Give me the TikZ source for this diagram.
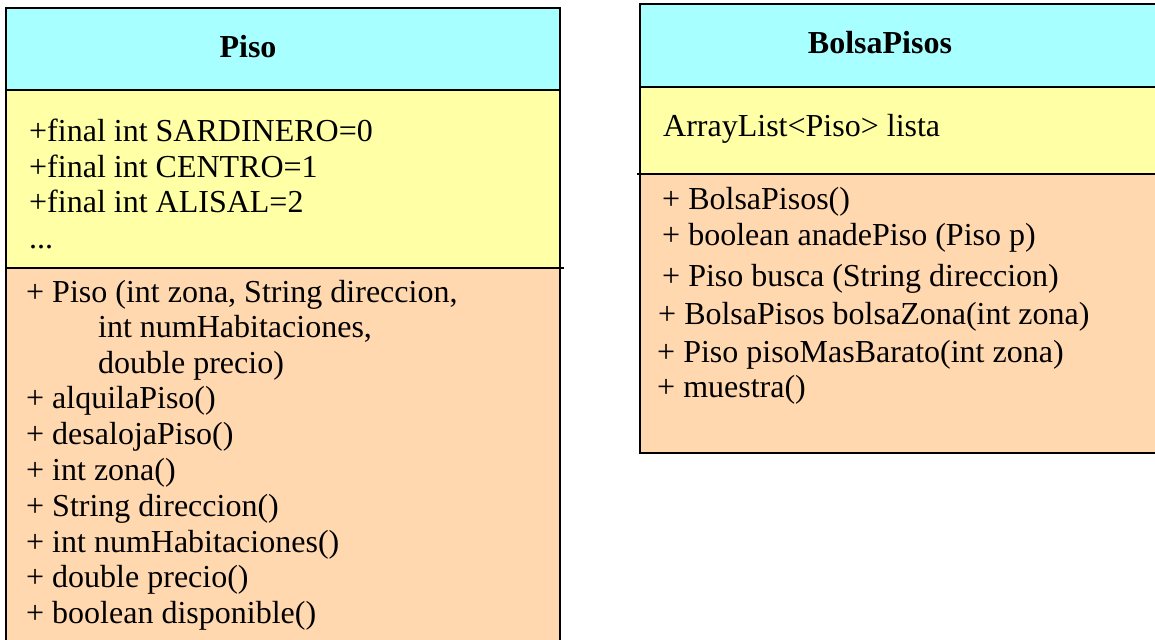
\documentclass[tikz,border=0pt]{standalone}
\usepackage{fontspec}
\setmainfont{Liberation Serif}
\definecolor{hdr}{RGB}{168,255,255}
\definecolor{attr}{RGB}{255,255,166}
\definecolor{meth}{RGB}{255,216,176}
\tikzset{
  border/.style={line width=2.3pt, draw=black},
  txt/.style={anchor=base west, inner sep=0pt, font=\fontsize{32}{36}\selectfont},
  ttl/.style={anchor=base, inner sep=0pt, font=\fontsize{32}{36}\selectfont\bfseries}
}
\begin{document}
\begin{tikzpicture}[x=1pt,y=-1pt]
\useasboundingbox (0,0) rectangle (1155,639);
\clip (0,0) rectangle (1155,639);
% ---- Piso class ----
\fill[hdr] (6,8) rectangle (560,90);
\fill[attr] (6,90) rectangle (560,268);
\fill[meth] (6,268) rectangle (560,660);
\draw[border] (6,660) -- (6,8) -- (560,8) -- (560,660);
\draw[border] (6,90) -- (560,90);
\draw[border] (6,268) -- (564,268);
\node[ttl] (pisoT) at (248,58) {Piso};
\node[txt] (pa1) at (29,142) {+final int SARDINERO=0};
\node[txt] (pa2) at (29,177) {+final int CENTRO=1};
\node[txt] (pa3) at (29,212) {+final int ALISAL=2};
\node[txt] (pa4) at (29,248) {...};
\node[txt] (pm1) at (26,302) {+ Piso (int zona, String direccion,};
\node[txt] (pm2) at (98,337) {int numHabitaciones,};
\node[txt] (pm3) at (98,373) {double precio)};
\node[txt] (pm4) at (26,408) {+ alquilaPiso()};
\node[txt] (pm5) at (26,444) {+ desalojaPiso()};
\node[txt] (pm6) at (26,480) {+ int zona()};
\node[txt] (pm7) at (26,516) {+ String direccion()};
\node[txt] (pm8) at (26,552) {+ int numHabitaciones()};
\node[txt] (pm9) at (26,587) {+ double precio()};
\node[txt] (pm10) at (26,623) {+ boolean disponible()};
% ---- BolsaPisos class ----
\fill[hdr] (640,4) rectangle (1170,87);
\fill[attr] (640,87) rectangle (1170,174);
\fill[meth] (640,174) rectangle (1170,453);
\draw[border] (1170,4) -- (640,4) -- (640,453) -- (1170,453);
\draw[border] (640,87) -- (1170,87);
\draw[border] (637,174) -- (1170,174);
\node[ttl] (bolsaT) at (880,54) {BolsaPisos};
\node[txt] (ba1) at (663,137) {ArrayList<Piso> lista};
\node[txt] (bm1) at (662,209) {+ BolsaPisos()};
\node[txt] (bm2) at (662,245) {+ boolean anadePiso (Piso p)};
\node[txt] (bm3) at (662,286) {+ Piso busca (String direccion)};
\node[txt] (bm4) at (658,324) {+ BolsaPisos bolsaZona(int zona)};
\node[txt] (bm5) at (657,362) {+ Piso pisoMasBarato(int zona)};
\node[txt] (bm6) at (657,397) {+ muestra()};
\end{tikzpicture}
\end{document}
